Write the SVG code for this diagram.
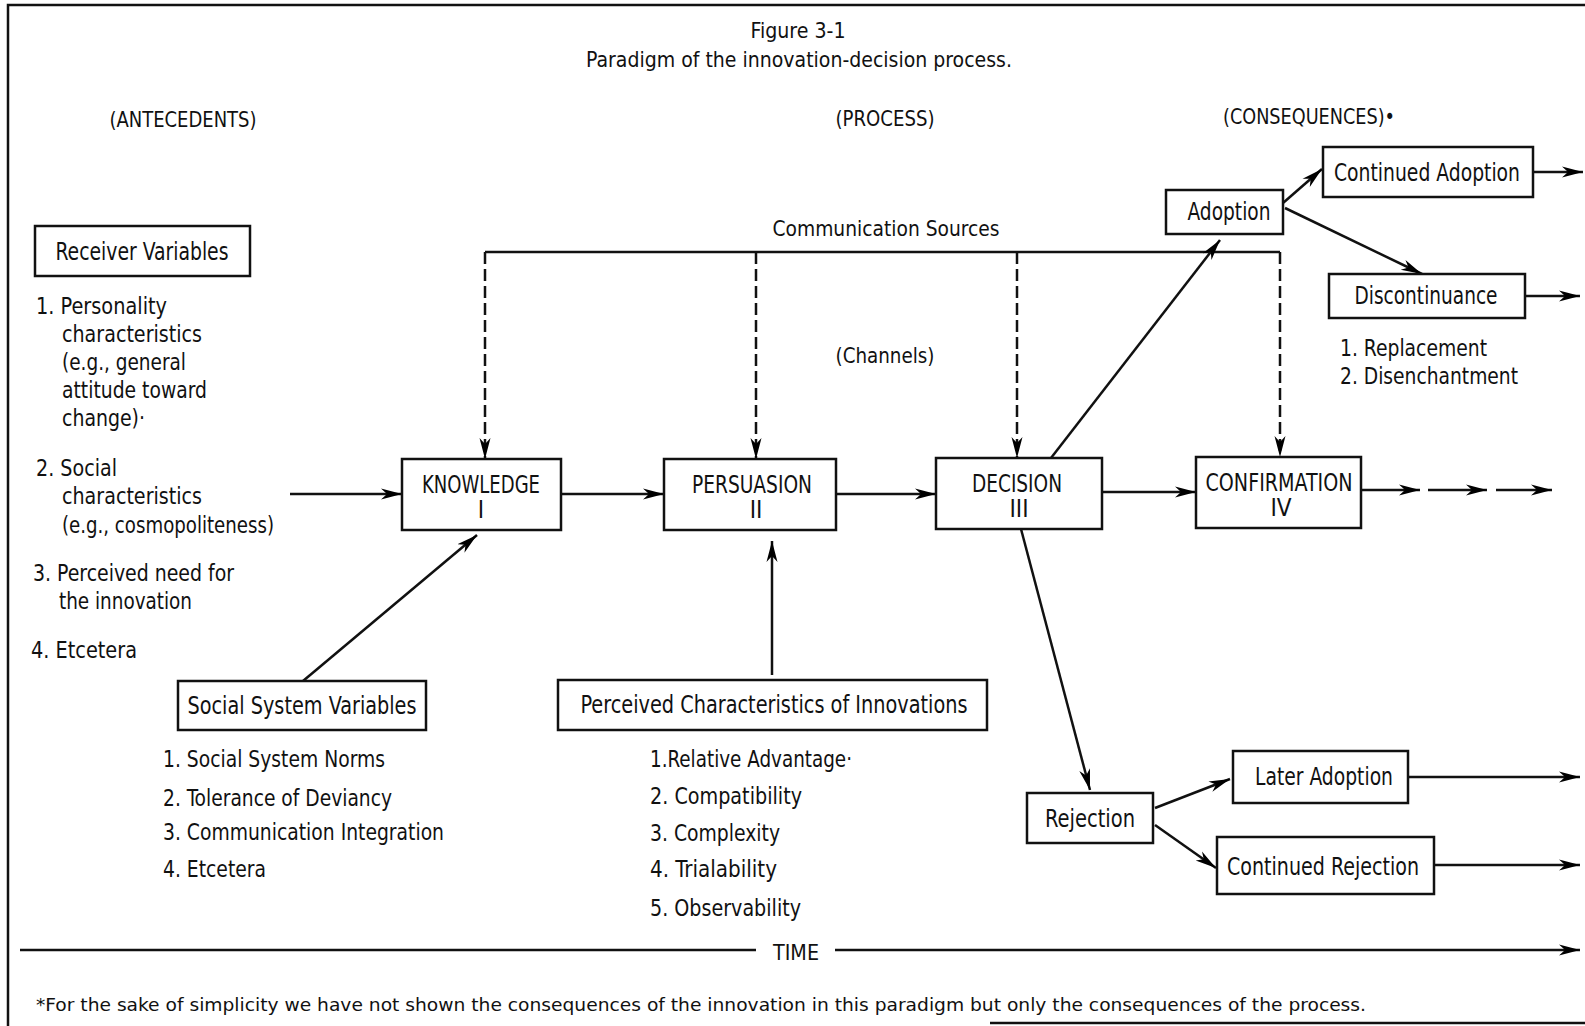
<svg xmlns="http://www.w3.org/2000/svg" width="1585" height="1026" viewBox="0 0 1585 1026">
<defs>
<marker id="ah" markerWidth="24" markerHeight="14" refX="21" refY="7" orient="auto" markerUnits="userSpaceOnUse"><path d="M0,1.5 L21,7 L0,12.5 L6,7 Z" fill="#000"/></marker>
<style>
text{font-family:"Liberation Sans Narrow","DejaVu Sans Condensed","Liberation Sans",sans-serif;fill:#111;}
.t{font-size:23px;}
.b{font-size:24px;}
.h{font-size:22px;}
.f{font-size:18px;}
.box{fill:#fff;stroke:#111;stroke-width:2.5;}
.c{fill:none;stroke:#111;stroke-width:2.5;}
.a{marker-end:url(#ah);}
.d{stroke-dasharray:12 5;}
</style>
</defs>
<rect width="1585" height="1026" fill="#fff"/>
<path d="M8,1026 L8,5 L1585,5 M990,1023 L1585,1023" fill="none" stroke="#111" stroke-width="2.5"/>

<g id="titles">
<text class="h" x="798" y="38" text-anchor="middle" textLength="95" lengthAdjust="spacingAndGlyphs">Figure 3-1</text>
<text class="h" x="799" y="67" text-anchor="middle" textLength="426" lengthAdjust="spacingAndGlyphs">Paradigm of the innovation-decision process.</text>
<text class="h" x="183" y="127" text-anchor="middle" textLength="147" lengthAdjust="spacingAndGlyphs">(ANTECEDENTS)</text>
<text class="h" x="885" y="126" text-anchor="middle" textLength="99" lengthAdjust="spacingAndGlyphs">(PROCESS)</text>
<text class="h" x="1309" y="124" text-anchor="middle" textLength="172" lengthAdjust="spacingAndGlyphs">(CONSEQUENCES)•</text>
<text class="h" x="886" y="236" text-anchor="middle" textLength="227" lengthAdjust="spacingAndGlyphs">Communication Sources</text>
<text class="h" x="885" y="363" text-anchor="middle" textLength="99" lengthAdjust="spacingAndGlyphs">(Channels)</text>
</g>

<g id="connectors">
<path class="c a" d="M290,494 L402,494"/>
<path class="c a" d="M561,494 L664,494"/>
<path class="c a" d="M836,494 L936,494"/>
<path class="c a" d="M1102,492 L1196,492"/>
<path class="c a" d="M1361,490 L1420,490"/>
<path class="c a" d="M1428,490 L1487,490"/>
<path class="c a" d="M1496,490 L1552,490"/>
<path class="c" d="M485,252 L1280,252"/>
<path class="c d a" d="M485,252 L485,459"/>
<path class="c d a" d="M756,252 L756,459"/>
<path class="c d a" d="M1017,252 L1017,458"/>
<path class="c d a" d="M1280,252 L1280,457"/>
<path class="c a" d="M303,681 L477,535"/>
<path class="c a" d="M772,675 L772,541"/>
<path class="c a" d="M1051,458 L1220,240"/>
<path class="c a" d="M1283,203 L1322,169"/>
<path class="c a" d="M1285,208 L1422,274"/>
<path class="c a" d="M1533,172 L1583,172"/>
<path class="c a" d="M1525,296 L1580,296"/>
<path class="c a" d="M1021,529 L1090,790"/>
<path class="c a" d="M1155,808 L1230,779"/>
<path class="c a" d="M1155,825 L1216,868"/>
<path class="c a" d="M1409,777 L1580,777"/>
<path class="c a" d="M1435,865 L1580,865"/>
<path class="c" d="M20,950 L756,950"/>
<path class="c a" d="M835,950 L1580,950"/>
</g>

<g id="receiver">
<rect class="box" x="35" y="226" width="215" height="50"/>
<text class="b" x="142" y="260" text-anchor="middle" textLength="173" lengthAdjust="spacingAndGlyphs">Receiver Variables</text>
</g>
<g id="receiver-list">
<text class="t" x="36" y="314" textLength="131" lengthAdjust="spacingAndGlyphs">1. Personality</text>
<text class="t" x="62" y="342" textLength="140" lengthAdjust="spacingAndGlyphs">characteristics</text>
<text class="t" x="62" y="370" textLength="124" lengthAdjust="spacingAndGlyphs">(e.g., general</text>
<text class="t" x="62" y="398" textLength="145" lengthAdjust="spacingAndGlyphs">attitude toward</text>
<text class="t" x="62" y="426" textLength="83" lengthAdjust="spacingAndGlyphs">change)·</text>
<text class="t" x="36" y="476" textLength="81" lengthAdjust="spacingAndGlyphs">2. Social</text>
<text class="t" x="62" y="504" textLength="140" lengthAdjust="spacingAndGlyphs">characteristics</text>
<text class="t" x="62" y="533" textLength="212" lengthAdjust="spacingAndGlyphs">(e.g., cosmopoliteness)</text>
<text class="t" x="33" y="581" textLength="201" lengthAdjust="spacingAndGlyphs">3. Perceived need for</text>
<text class="t" x="59" y="609" textLength="133" lengthAdjust="spacingAndGlyphs">the innovation</text>
<text class="t" x="31" y="658" textLength="106" lengthAdjust="spacingAndGlyphs">4. Etcetera</text>
</g>

<g id="knowledge">
<rect class="box" x="402" y="459" width="159" height="71"/>
<text class="b" x="481" y="493" text-anchor="middle" textLength="118" lengthAdjust="spacingAndGlyphs">KNOWLEDGE</text>
<text class="b" x="481" y="518" text-anchor="middle">I</text>
</g>
<g id="persuasion">
<rect class="box" x="664" y="459" width="172" height="71"/>
<text class="b" x="752" y="493" text-anchor="middle" textLength="120" lengthAdjust="spacingAndGlyphs">PERSUASION</text>
<text class="b" x="756" y="518" text-anchor="middle">II</text>
</g>
<g id="decision">
<rect class="box" x="936" y="458" width="166" height="71"/>
<text class="b" x="1017" y="492" text-anchor="middle" textLength="90" lengthAdjust="spacingAndGlyphs">DECISION</text>
<text class="b" x="1019" y="517" text-anchor="middle">III</text>
</g>
<g id="confirmation">
<rect class="box" x="1196" y="457" width="165" height="71"/>
<text class="b" x="1279" y="491" text-anchor="middle" textLength="147" lengthAdjust="spacingAndGlyphs">CONFIRMATION</text>
<text class="b" x="1281" y="516" text-anchor="middle">IV</text>
</g>

<g id="adoption">
<rect class="box" x="1166" y="190" width="117" height="44"/>
<text class="b" x="1229" y="220" text-anchor="middle" textLength="83" lengthAdjust="spacingAndGlyphs">Adoption</text>
</g>
<g id="continued-adoption">
<rect class="box" x="1323" y="147" width="210" height="50"/>
<text class="b" x="1427" y="181" text-anchor="middle" textLength="186" lengthAdjust="spacingAndGlyphs">Continued Adoption</text>
</g>
<g id="discontinuance">
<rect class="box" x="1329" y="274" width="196" height="44"/>
<text class="b" x="1426" y="304" text-anchor="middle" textLength="143" lengthAdjust="spacingAndGlyphs">Discontinuance</text>
</g>
<g id="discontinuance-list">
<text class="t" x="1340" y="356" textLength="147" lengthAdjust="spacingAndGlyphs">1. Replacement</text>
<text class="t" x="1340" y="384" textLength="178" lengthAdjust="spacingAndGlyphs">2. Disenchantment</text>
</g>

<g id="social-system">
<rect class="box" x="178" y="681" width="248" height="49"/>
<text class="b" x="302" y="714" text-anchor="middle" textLength="229" lengthAdjust="spacingAndGlyphs">Social System Variables</text>
</g>
<g id="social-list">
<text class="t" x="163" y="767" textLength="222" lengthAdjust="spacingAndGlyphs">1. Social System Norms</text>
<text class="t" x="163" y="806" textLength="229" lengthAdjust="spacingAndGlyphs">2. Tolerance of Deviancy</text>
<text class="t" x="163" y="840" textLength="281" lengthAdjust="spacingAndGlyphs">3. Communication Integration</text>
<text class="t" x="163" y="877" textLength="103" lengthAdjust="spacingAndGlyphs">4. Etcetera</text>
</g>

<g id="perceived">
<rect class="box" x="558" y="680" width="429" height="50"/>
<text class="b" x="774" y="713" text-anchor="middle" textLength="387" lengthAdjust="spacingAndGlyphs">Perceived Characteristics of Innovations</text>
</g>
<g id="perceived-list">
<text class="t" x="650" y="767" textLength="202" lengthAdjust="spacingAndGlyphs">1.Relative Advantage·</text>
<text class="t" x="650" y="804" textLength="152" lengthAdjust="spacingAndGlyphs">2. Compatibility</text>
<text class="t" x="650" y="841" textLength="130" lengthAdjust="spacingAndGlyphs">3. Complexity</text>
<text class="t" x="650" y="877" textLength="127" lengthAdjust="spacingAndGlyphs">4. Trialability</text>
<text class="t" x="650" y="916" textLength="151" lengthAdjust="spacingAndGlyphs">5. Observability</text>
</g>

<g id="rejection">
<rect class="box" x="1027" y="793" width="126" height="50"/>
<text class="b" x="1090" y="827" text-anchor="middle" textLength="90" lengthAdjust="spacingAndGlyphs">Rejection</text>
</g>
<g id="later-adoption">
<rect class="box" x="1233" y="751" width="175" height="52"/>
<text class="b" x="1324" y="785" text-anchor="middle" textLength="138" lengthAdjust="spacingAndGlyphs">Later Adoption</text>
</g>
<g id="continued-rejection">
<rect class="box" x="1217" y="837" width="217" height="57"/>
<text class="b" x="1323" y="875" text-anchor="middle" textLength="192" lengthAdjust="spacingAndGlyphs">Continued Rejection</text>
</g>

<g id="time">
<text class="h" x="796" y="960" text-anchor="middle" textLength="46" lengthAdjust="spacingAndGlyphs">TIME</text>
</g>
<g id="footnote">
<text class="f" x="36" y="1011" textLength="1330" lengthAdjust="spacingAndGlyphs">*For the sake of simplicity we have not shown the consequences of the innovation in this paradigm but only the consequences of the process.</text>
</g>
</svg>
